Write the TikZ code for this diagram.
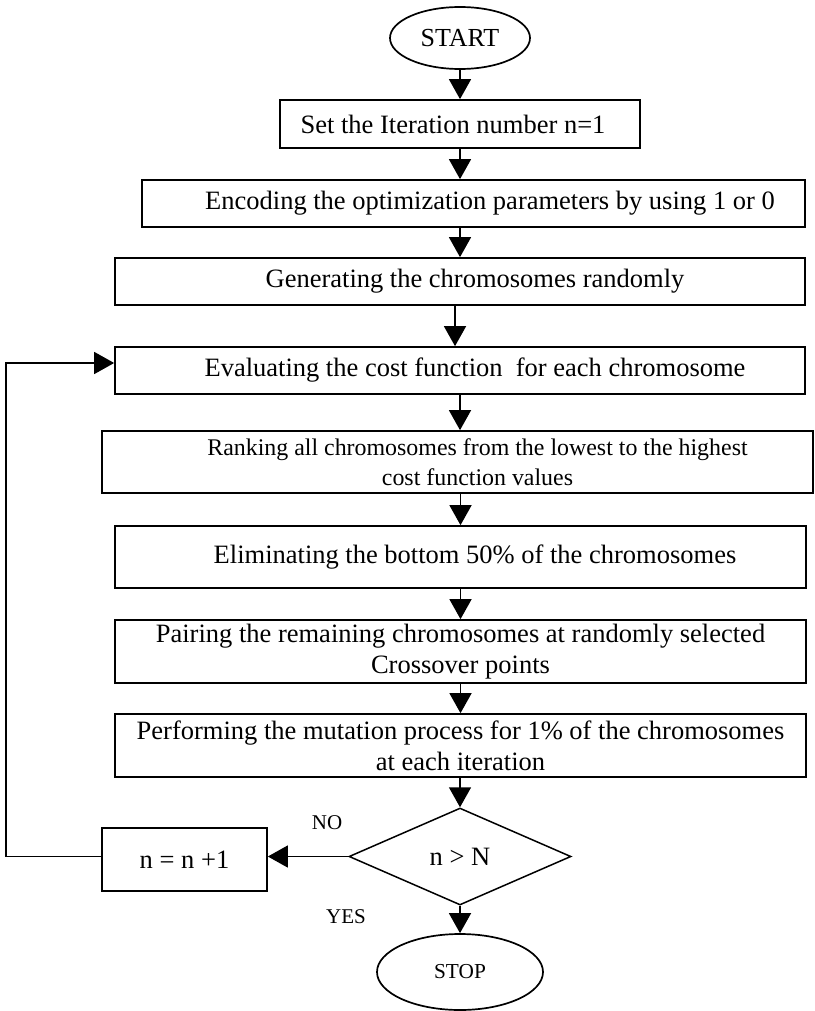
\documentclass[tikz,border=0pt]{standalone}
\usepackage{fontspec}
\setmainfont{Liberation Serif}
\usetikzlibrary{shapes.geometric,arrows.meta,calc}
\tikzset{
  box/.style={draw, line width=1.7pt, inner sep=0pt, align=center,
    font=\fontsize{26.5}{31}\selectfont},
  oval/.style={draw, ellipse, line width=1.7pt, inner sep=0pt},
  arr/.style={line width=1.5pt, -{Triangle[width=22pt,length=20pt]}},
  lab/.style={font=\fontsize{21}{23}\selectfont, inner sep=0pt}
}
\begin{document}
\begin{tikzpicture}[x=1pt,y=-1pt]
\useasboundingbox (0,0) rectangle (814,1011);
\coordinate (loopx) at (6,0);
% nodes
\node[oval, minimum width=140pt, minimum height=62pt,
      font=\fontsize{26}{28}\selectfont] (start) at (460,38) {START};
\node[box, minimum width=360pt, minimum height=48pt] (set) at (460,124)
  {\hspace*{-14pt}Set the Iteration number n=1};
\node[box, minimum width=663pt, minimum height=47pt] (enc) at (473.5,203.5)
  {\hspace*{33pt}Encoding the optimization parameters by using 1 or 0};
\node[box, minimum width=690pt, minimum height=47pt] (gen) at (460,281.5)
  {\hspace*{30pt}Generating the chromosomes randomly};
\node[box, minimum width=690pt, minimum height=47pt] (eval) at (460,370.5)
  {\hspace*{30pt}Evaluating the cost function\ \ for each chromosome};
\node[box, minimum width=711pt, minimum height=62pt,
      font=\fontsize{23.9}{30}\selectfont] (rank) at (457.5,462)
  {\hspace*{40pt}Ranking all chromosomes from the lowest to the highest\\
   \hspace*{40pt}cost function values};
\node[box, minimum width=691pt, minimum height=62pt] (elim) at (460.5,557)
  {\hspace*{29pt}Eliminating the bottom 50\% of the chromosomes};
\node[box, minimum width=691pt, minimum height=63pt] (pair) at (460.5,651.5)
  {Pairing the remaining chromosomes at randomly selected\\Crossover points};
\node[box, minimum width=691pt, minimum height=63pt] (perf) at (460.5,745.5)
  {Performing the mutation process for 1\% of the chromosomes\\at each iteration};
\node[draw, diamond, line width=1.5pt, inner sep=0pt, shape aspect=2.3,
      minimum width=222pt, minimum height=97pt,
      font=\fontsize{26.5}{31}\selectfont] (dia) at (460,856.5) {n > N};
\node[box, minimum width=165pt, minimum height=63pt] (inc) at (184.5,859.5)
  {n = n +1};
\node[oval, minimum width=166pt, minimum height=76pt,
      font=\fontsize{21.3}{24}\selectfont] (stop) at (460,972) {STOP};
\node[lab] (no) at (327,823) {NO};
\node[lab] (yes) at (346,917) {YES};
\coordinate (evalin) at ($(eval.west)+(0,-7.5)$);
% connectors
\draw[arr] (start.south) -- (set.north);
\draw[arr] (set.south) -- (set.south |- enc.north);
\draw[arr] (gen.north |- enc.south) -- (gen.north);
\draw[arr] ($(gen.south)+(-5,0)$) -- ($(eval.north)+(-5,0)$);
\draw[arr] (eval.south) -- (eval.south |- rank.north);
\draw[arr] (elim.north |- rank.south) -- (elim.north);
\draw[arr] (elim.south) -- (elim.south |- pair.north);
\draw[arr] (pair.south) -- (pair.south |- perf.north);
\draw[arr] (dia.north |- perf.south) -- (dia.north);
\draw[arr] (dia.south) -- (stop.north);
\draw[arr] (dia.west) -- (dia.west -| inc.east);
\draw[arr] (inc.west |- dia.west) -- (dia.west -| loopx) |- (evalin);
\end{tikzpicture}
\end{document}
